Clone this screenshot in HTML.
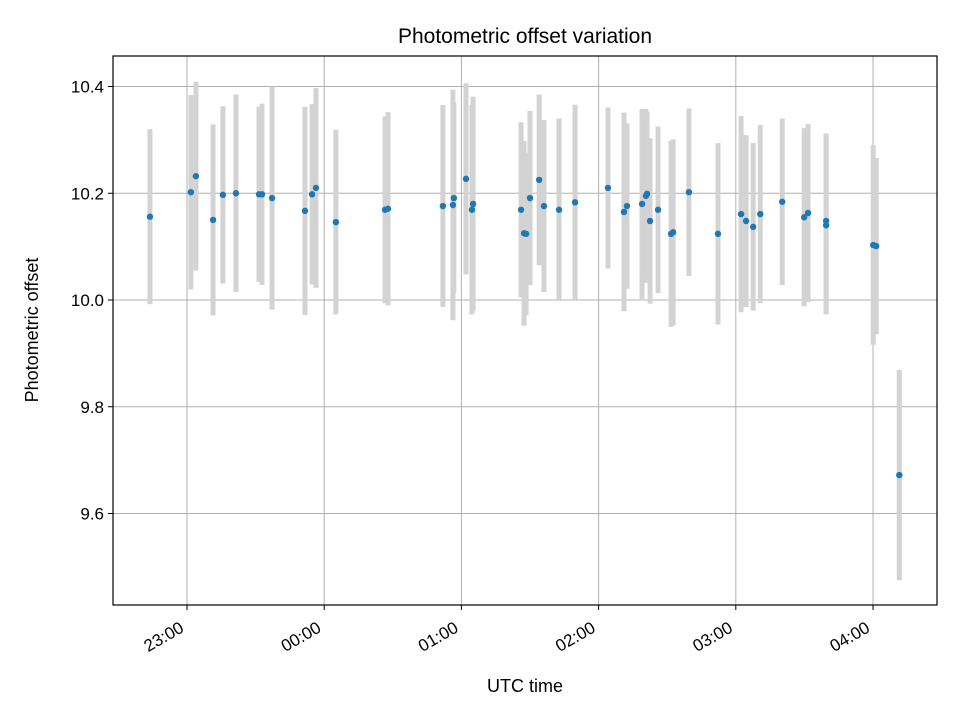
<!DOCTYPE html>
<html><head><meta charset="utf-8"><style>
body{margin:0;background:#fff}
svg{font-family:"Liberation Sans","DejaVu Sans",sans-serif}
</style></head><body>
<svg id="c" width="960" height="720" xmlns="http://www.w3.org/2000/svg">
<rect width="960" height="720" fill="#fff"/>
<g id="grid"></g>
<g id="bars"></g>
<g id="pts"></g>
<rect x="113" y="56" width="824" height="549" fill="none" stroke="#000" stroke-width="1.2"/>
<g id="ticks"></g>
<text x="525" y="43" text-anchor="middle" font-size="21">Photometric offset variation</text>
<text x="525" y="692" text-anchor="middle" font-size="18">UTC time</text>
<text x="38" y="330" text-anchor="middle" font-size="18" transform="rotate(-90 38 330)">Photometric offset</text>
</svg>
<script>
// minutes relative to 23:00 UTC
const times=[-16.2,1.7,3.9,11.4,15.7,21.4,31.5,32.8,37.2,51.6,54.7,56.4,65.1,86.6,87.9,111.9,116.3,116.7,122.0,124.6,125.1,146.1,147.4,148.3,150.0,154.0,156.1,162.7,169.7,184.1,191.1,192.4,199.0,200.7,201.2,202.5,206.0,211.7,212.6,219.5,232.2,242.3,244.5,247.6,250.7,260.3,269.9,271.6,279.5,279.5,300.1,301.4,311.5];
const offsets=[10.156,10.202,10.232,10.150,10.197,10.200,10.198,10.198,10.191,10.167,10.198,10.210,10.146,10.169,10.171,10.176,10.178,10.191,10.227,10.169,10.180,10.169,10.125,10.124,10.191,10.225,10.176,10.169,10.183,10.210,10.165,10.176,10.180,10.195,10.199,10.148,10.169,10.124,10.127,10.202,10.124,10.161,10.148,10.137,10.161,10.184,10.155,10.163,10.140,10.148,10.103,10.101,9.672];
const errors=[0.164,0.182,0.177,0.179,0.166,0.185,0.164,0.170,0.209,0.195,0.169,0.187,0.173,0.175,0.181,0.189,0.216,0.178,0.179,0.196,0.201,0.164,0.173,0.152,0.163,0.160,0.161,0.171,0.183,0.151,0.186,0.155,0.178,0.163,0.153,0.155,0.156,0.174,0.174,0.157,0.170,0.184,0.161,0.157,0.167,0.156,0.167,0.167,0.167,0.164,0.187,0.165,0.197];
const yTicks=[9.6,9.8,10.0,10.2,10.4];
const xTickMin=[0,60,120,180,240,300];
const xTickLabels=["23:00","00:00","01:00","02:00","03:00","04:00"];
const X=m=>187+m*137.2/60;
const Y=v=>300-(v-10)*533.75;
const NS="http://www.w3.org/2000/svg";
function mk(p,tag,a){const e=document.createElementNS(NS,tag);for(const k in a)e.setAttribute(k,a[k]);document.getElementById(p).appendChild(e);return e;}
yTicks.forEach((v,i)=>{
 const g=mk('grid','line',{x1:113,x2:937,y1:Y(v),y2:Y(v),stroke:'#b0b0b0','stroke-width':1});
 
 
 const t=mk('ticks','line',{x1:108,x2:113,y1:Y(v),y2:Y(v),stroke:'#000'});
 
 
 const l=mk('ticks','text',{x:104,y:Y(v)+6,'text-anchor':'end','font-size':17});
 l.textContent=v.toFixed(1);
 
 
});
xTickMin.forEach((m,i)=>{
 const g=mk('grid','line',{x1:X(m),x2:X(m),y1:56,y2:605,stroke:'#b0b0b0','stroke-width':1});
 
 
 const t=mk('ticks','line',{x1:X(m),x2:X(m),y1:605,y2:610,stroke:'#000'});
 
 
 const x=X(m)-2,y=631;
 const l=mk('ticks','text',{x:x,y:y,'text-anchor':'end','font-size':17,transform:`rotate(-30 ${x} ${y})`});
 l.textContent=xTickLabels[i];
 
 
});
times.forEach((m,i)=>{
 const b=mk('bars','line',{x1:X(m),x2:X(m),y1:Y(offsets[i]+errors[i]),y2:Y(offsets[i]-errors[i]),stroke:'#d3d3d3','stroke-width':5});
 
 
});
times.forEach((m,i)=>{
 const p=mk('pts','circle',{cx:X(m),cy:Y(offsets[i]),r:3.2,fill:'#1f77b4'});
 
 
});
</script>
</body></html>
